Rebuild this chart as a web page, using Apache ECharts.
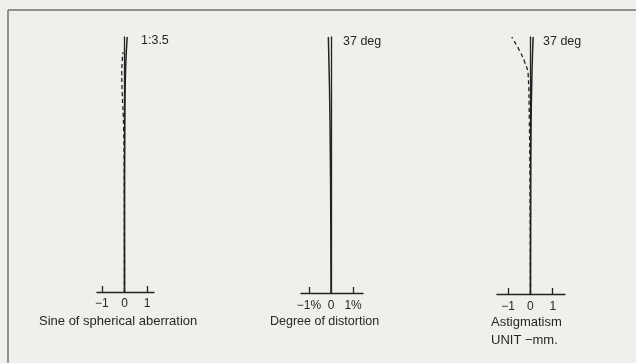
<!DOCTYPE html>
<html>
<head>
<meta charset="utf-8">
<style>
  html, body { margin: 0; padding: 0; background: #efefec; }
  #chart { width: 636px; height: 363px; }
</style>
<script src="https://cdn.jsdelivr.net/npm/echarts@6/dist/echarts.min.js"></script>
</head>
<body>
<div id="chart"></div>
<script>
// Tick positions and labels for the three little horizontal scales
const xTicks = [-1, 0, 1];
const tickLabelsSA = ['\u22121', '0', '1'];
const tickLabelsDist = ['\u22121%', '0', '1%'];
const tickLabelsAst = ['\u22121', '0', '1'];

// Panel captions
const captionSA = 'Sine of spherical aberration';
const captionDist = 'Degree of distortion';
const captionAst = ['Astigmatism', 'UNIT \u2212mm.'];
const apertureLabel = '1:3.5';
const fieldLabel = '37 deg';

// Spherical aberration / sine condition: [offset, relative pupil height 0..1]
const saSolid = [[0, 0], [0.0, 0.3], [0.01, 0.6], [0.03, 0.8], [0.06, 0.9], [0.12, 1.0]];
const saDashed = [[0, 0], [-0.01, 0.4], [-0.04, 0.65], [-0.1, 0.78], [-0.12, 0.86], [-0.07, 0.94]];

// Distortion (%) against field angle (deg)
const distCurve = [[0, 0], [-0.01, 10], [-0.03, 20], [-0.07, 30], [-0.12, 37]];

// Astigmatism (mm) against field angle (deg): sagittal solid, meridional dashed
const astSagittal = [[0, 0], [0.01, 15], [0.03, 25], [0.07, 32], [0.12, 37]];
const astMeridional = [[0, 0], [-0.02, 15], [-0.05, 25], [-0.1, 31.5], [-0.25, 33.3], [-0.5, 35.1], [-0.84, 37]];

const ink = '#222222';
const font = 'Liberation Sans, Arial, sans-serif';
const chart = echarts.init(document.getElementById('chart'));

function xAxisFor(gridIndex, min, max, labels, margin) {
  return {
    type: 'value', gridIndex, min, max,
    axisLine: { show: true, onZero: false, lineStyle: { color: ink, width: 1.3 } },
    axisTick: { show: true, inside: true, length: 6, customValues: [xTicks[0], xTicks[2]], lineStyle: { color: ink, width: 1.3 } },
    axisLabel: {
      show: true, customValues: xTicks, margin,
      fontFamily: font, fontSize: 12, color: '#262626',
      formatter: v => labels[xTicks.indexOf(v)]
    },
    splitLine: { show: false }
  };
}
function yAxisFor(gridIndex, max) {
  return {
    type: 'value', gridIndex, min: 0, max,
    axisLine: { show: true, onZero: true, lineStyle: { color: ink, width: 1.3 } },
    axisTick: { show: false }, axisLabel: { show: false }, splitLine: { show: false }
  };
}
function curve(idx, data, dashed) {
  return {
    type: 'line', xAxisIndex: idx, yAxisIndex: idx, data,
    smooth: true, showSymbol: false, silent: true,
    lineStyle: { color: ink, width: dashed ? 1.3 : 1.5, type: dashed ? [4, 3] : 'solid' }
  };
}
function caption(text, left, top, size) {
  return {
    text, left, top, padding: 0,
    textStyle: { fontFamily: font, fontSize: size, fontWeight: 'normal', color: '#262626' }
  };
}

chart.setOption({
  backgroundColor: '#efefec',
  animation: false,
  grid: [
    { left: 97, width: 57, top: 37, height: 255 },
    { left: 301, width: 62, top: 37, height: 256 },
    { left: 497, width: 68, top: 37, height: 257 }
  ],
  xAxis: [
    xAxisFor(0, -1.22, 1.31, tickLabelsSA, 6),
    xAxisFor(1, -1.36, 1.45, tickLabelsDist, 7),
    xAxisFor(2, -1.5, 1.55, tickLabelsAst, 7)
  ],
  yAxis: [yAxisFor(0, 1), yAxisFor(1, 37), yAxisFor(2, 37)],
  series: [
    curve(0, saSolid, false),
    curve(0, saDashed, true),
    curve(1, distCurve, false),
    curve(2, astSagittal, false),
    curve(2, astMeridional, true)
  ],
  title: [
    caption(apertureLabel, 141, 34, 12.5),
    caption(fieldLabel, 343, 35, 12.5),
    caption(fieldLabel, 543, 35, 12.5),
    caption(captionSA, 39, 315, 13),
    caption(captionDist, 270, 315, 12.5),
    caption(captionAst[0], 491, 316, 13),
    caption(captionAst[1], 491, 334, 13)
  ],
  graphic: [
    // thin frame along the top and left of the plate
    { type: 'line', shape: { x1: 8, y1: 10, x2: 636, y2: 10 }, style: { stroke: '#707070', lineWidth: 1.5 } },
    { type: 'line', shape: { x1: 8, y1: 10, x2: 8, y2: 363 }, style: { stroke: '#707070', lineWidth: 1.5 } }
  ]
});
</script>
</body>
</html>
